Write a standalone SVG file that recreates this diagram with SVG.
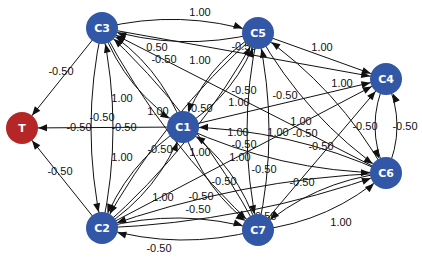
<svg xmlns="http://www.w3.org/2000/svg" width="422" height="258" viewBox="0 0 422 258">
<style>
.e{fill:none;stroke:#111;stroke-width:1;marker-end:url(#arr)}
.l{font-family:"Liberation Sans",Arial,sans-serif;font-size:11px;fill:#111;text-anchor:middle}
.n{fill:#3157a6}
.t{fill:#b52626}
.nl{font-family:"DejaVu Sans",Verdana,sans-serif;font-size:11px;font-weight:bold;fill:#fff;text-anchor:middle}
</style>
<defs>
<marker id="arr" markerUnits="userSpaceOnUse" markerWidth="30" markerHeight="10" refX="0" refY="0" orient="auto" overflow="visible">
<path d="M-16,0 L-25,-3.5 L-25,3.5 Z" fill="#111"/>
</marker>
</defs>
<rect width="422" height="258" fill="#fff"/>
<g id="connectors">
<path class="e" d="M102,28 L22,128"/>
<path class="e" d="M183,127 L22,128"/>
<path class="e" d="M102,228 L22,128"/>
<path class="e" d="M102,28 L386,79"/>
<path class="e" d="M258,33 L386,79"/>
<path class="e" d="M386,173 L102,28"/>
<path class="e" d="M183,127 L386,79"/>
<path class="e" d="M102,228 L386,79"/>
<path class="e" d="M258,230 L386,79"/>
<path class="e" d="M102,28 Q180.7,8.5 258,33"/>
<path class="e" d="M258,33 Q179.3,52.5 102,28"/>
<path class="e" d="M102,28 Q125.5,91.4 183,127"/>
<path class="e" d="M183,127 Q159.5,63.6 102,28"/>
<path class="e" d="M102,28 Q80,128 102,228"/>
<path class="e" d="M102,228 Q124,128 102,28"/>
<path class="e" d="M102,28 Q162.6,142.4 258,230"/>
<path class="e" d="M258,230 Q197.4,115.6 102,28"/>
<path class="e" d="M258,33 Q203.3,66.25 183,127"/>
<path class="e" d="M183,127 Q237.7,93.75 258,33"/>
<path class="e" d="M258,33 Q305.8,117.9 386,173"/>
<path class="e" d="M386,173 Q338.2,88.1 258,33"/>
<path class="e" d="M258,33 Q162.8,116.75 102,228"/>
<path class="e" d="M102,228 Q197.2,144.25 258,33"/>
<path class="e" d="M258,33 Q236,131.5 258,230"/>
<path class="e" d="M258,230 Q280,131.5 258,33"/>
<path class="e" d="M386,79 Q364,126 386,173"/>
<path class="e" d="M386,173 Q408,126 386,79"/>
<path class="e" d="M183,127 Q279.6,171.5 386,173"/>
<path class="e" d="M386,173 Q289.4,128.5 183,127"/>
<path class="e" d="M183,127 Q125.3,163.75 102,228"/>
<path class="e" d="M102,228 Q159.7,191.25 183,127"/>
<path class="e" d="M183,127 Q202.7,191.5 258,230"/>
<path class="e" d="M258,230 Q238.3,165.5 183,127"/>
<path class="e" d="M386,173 Q239.8,178.9 102,228"/>
<path class="e" d="M102,228 Q248.2,222.1 386,173"/>
<path class="e" d="M386,173 Q313,181.4 258,230"/>
<path class="e" d="M258,230 Q331,221.6 386,173"/>
<path class="e" d="M102,228 Q180,207 258,230"/>
<path class="e" d="M258,230 Q180,251 102,228"/>
</g>
<g id="edge-labels">
<text class="l" x="200" y="16">1.00</text>
<text class="l" x="61" y="75">-0.50</text>
<text class="l" x="157" y="51">0.50</text>
<text class="l" x="164" y="63">-0.50</text>
<text class="l" x="200" y="64">1.00</text>
<text class="l" x="244" y="50">-0.50</text>
<text class="l" x="322" y="51">1.00</text>
<text class="l" x="342" y="87">1.00</text>
<text class="l" x="285" y="99">-0.50</text>
<text class="l" x="244" y="94">-0.50</text>
<text class="l" x="239" y="106">1.00</text>
<text class="l" x="122" y="102">1.00</text>
<text class="l" x="102" y="121">-0.50</text>
<text class="l" x="158" y="115">1.00</text>
<text class="l" x="200" y="112">-0.50</text>
<text class="l" x="79" y="131">-0.50</text>
<text class="l" x="124" y="131">-0.50</text>
<text class="l" x="238" y="136">1.00</text>
<text class="l" x="278" y="136">1.00</text>
<text class="l" x="305" y="137">-0.50</text>
<text class="l" x="301" y="125">1.00</text>
<text class="l" x="244" y="148">-0.50</text>
<text class="l" x="321" y="150">-0.50</text>
<text class="l" x="240" y="161">1.00</text>
<text class="l" x="200" y="156">1.00</text>
<text class="l" x="160" y="153">-0.50</text>
<text class="l" x="122" y="161">1.00</text>
<text class="l" x="60" y="175">-0.50</text>
<text class="l" x="365" y="130">-0.50</text>
<text class="l" x="405" y="130">-0.50</text>
<text class="l" x="264" y="173">-0.50</text>
<text class="l" x="224" y="185">-0.50</text>
<text class="l" x="302" y="186">-0.50</text>
<text class="l" x="163" y="201">1.00</text>
<text class="l" x="201" y="200">-0.50</text>
<text class="l" x="198" y="213">-0.50</text>
<text class="l" x="264" y="220">-0.50</text>
<text class="l" x="341" y="226">1.00</text>
<text class="l" x="159" y="252">-0.50</text>
</g>
<g id="node-T"><circle class="t" cx="22" cy="128" r="16"/><text class="nl" x="22" y="132">T</text></g>
<g id="node-C3"><circle class="n" cx="102" cy="28" r="16"/><text class="nl" x="102" y="32">C3</text></g>
<g id="node-C5"><circle class="n" cx="258" cy="33" r="16"/><text class="nl" x="258" y="37">C5</text></g>
<g id="node-C4"><circle class="n" cx="386" cy="79" r="16"/><text class="nl" x="386" y="83">C4</text></g>
<g id="node-C1"><circle class="n" cx="183" cy="127" r="16"/><text class="nl" x="183" y="131">C1</text></g>
<g id="node-C6"><circle class="n" cx="386" cy="173" r="16"/><text class="nl" x="386" y="177">C6</text></g>
<g id="node-C2"><circle class="n" cx="102" cy="228" r="16"/><text class="nl" x="102" y="232">C2</text></g>
<g id="node-C7"><circle class="n" cx="258" cy="230" r="16"/><text class="nl" x="258" y="234">C7</text></g>
</svg>
